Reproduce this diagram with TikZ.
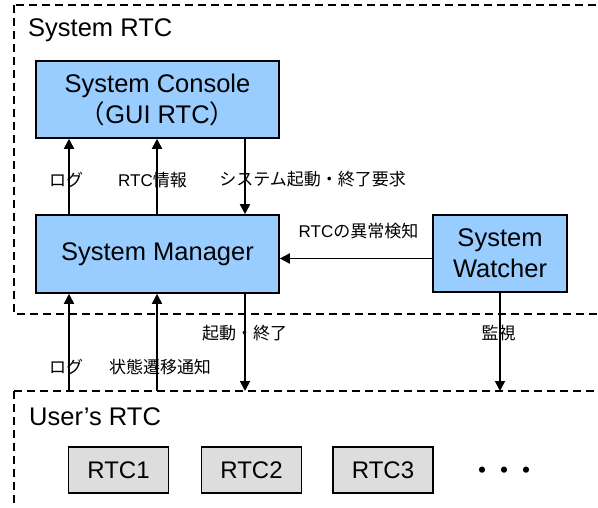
\documentclass[tikz,border=0pt]{standalone}
\usepackage{fontspec}
\setmainfont{Liberation Sans}
\newfontfamily\cjk{Noto Sans CJK JP}
\usetikzlibrary{arrows.meta}
\definecolor{boxBlue}{HTML}{99CCFF}
\definecolor{boxGray}{HTML}{DDDDDD}

\begin{document}
\begin{tikzpicture}[x=1pt, y=-1pt,
    bigtext/.style={font=\fontsize{25.5}{31}\selectfont, align=center},
    sysbox/.style={draw, line width=1.6pt, fill=boxBlue, bigtext, inner sep=0pt},
    rtcbox/.style={draw, line width=1.4pt, fill=boxGray, minimum width=100pt, minimum height=46pt, inner sep=0pt, font=\fontsize{24}{28}\selectfont},
    dashbox/.style={line width=1.6pt, dash pattern=on 8pt off 5pt},
    arr/.style={line width=1.8pt, -{Triangle[length=10pt,width=10pt]}},
    lbl/.style={font=\fontsize{17}{20}\selectfont, inner sep=0pt}]
    \useasboundingbox (0,0) rectangle (598,508);

    % Group frames
    \draw[dashbox] (14,5) rectangle (620,314);
    \draw[dashbox] (14,391) rectangle (620,530);
    \node[anchor=base west, inner sep=0pt, font=\fontsize{25.5}{31}\selectfont] (sysrtc) at (28,36.5) {System RTC};
    \node[anchor=base west, inner sep=0pt, font=\fontsize{25.5}{31}\selectfont] (userrtc) at (29,425) {User’s RTC};

    % System components
    \node[sysbox, minimum width=243pt, minimum height=77pt] (console) at (157.5,99.5) {System Console\\{\cjk （}GUI RTC{\cjk ）}};
    \node[sysbox, minimum width=243pt, minimum height=78pt] (manager) at (157.5,254) {System Manager};
    \node[sysbox, minimum width=134pt, minimum height=77pt] (watcher) at (500,253.5) {System\\Watcher};

    % User components
    \foreach \i/\x in {1/118.5, 2/251.5, 3/383}
        \node[rtcbox] (rtc\i) at (\x,470) {RTC\i};
    \node[inner sep=0pt, font=\cjk\bfseries\fontsize{22}{26}\selectfont] (more) at (504,473) {・・・};

    % Arrow columns
    \coordinate (colA) at (69,0);
    \coordinate (colB) at (157,0);
    \coordinate (colC) at (245,0);
    \coordinate (userTop) at (0,391);
    \coordinate (alarmY) at (0,258.5);

    % Console <-> Manager
    \draw[arr] (colA |- manager.north) -- (colA |- console.south);
    \draw[arr] (colB |- manager.north) -- (colB |- console.south);
    \draw[arr] (colC |- console.south) -- (colC |- manager.north);
    \node[lbl] (logUp) at (66,180) {\cjk ログ};
    \node[lbl] (infoUp) at (152.5,180) {RTC{\cjk 情報}};
    \node[lbl] (request) at (312.5,179) {\cjk システム起動・終了要求};

    % Watcher -> Manager
    \draw[arr] (watcher.west |- alarmY) -- (manager.east |- alarmY);
    \node[lbl] (alarm) at (358.5,231) {RTC{\cjk の異常検知}};

    % Manager <-> User's RTC
    \draw[arr] (colA |- userTop) -- (colA |- manager.south);
    \draw[arr] (colB |- userTop) -- (colB |- manager.south);
    \draw[arr] (colC |- manager.south) -- (colC |- userTop);
    \draw[arr] (watcher.south) -- (watcher.south |- userTop);
    \node[lbl] (startStop) at (244.5,333) {\cjk 起動・終了};
    \node[lbl] (watch) at (498.5,333) {\cjk 監視};
    \node[lbl] (logDown) at (66,367) {\cjk ログ};
    \node[lbl] (stateNote) at (160,367) {\cjk 状態遷移通知};
  \end{tikzpicture}
\end{document}
